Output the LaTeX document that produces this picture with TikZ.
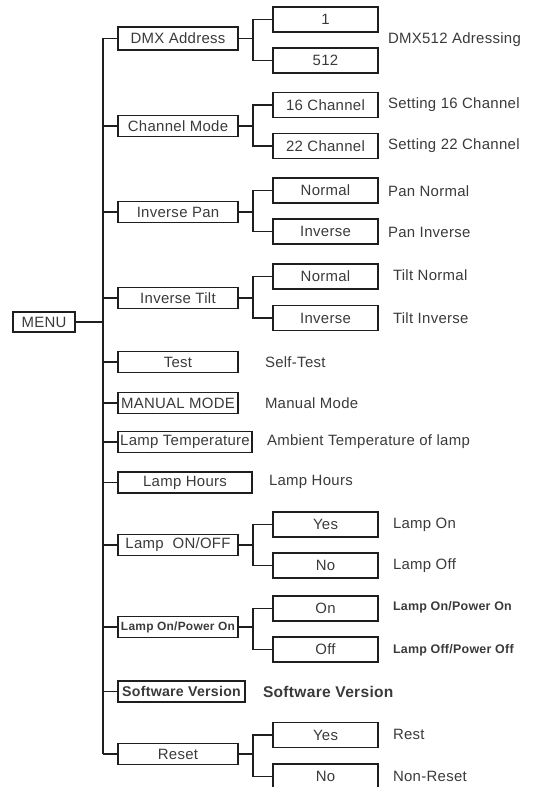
\documentclass[tikz,border=0pt]{standalone}
\usepackage{fontspec}
\setmainfont{Liberation Sans}[LetterSpace=2]
\definecolor{txt}{HTML}{3A3A3A}
\definecolor{ln}{HTML}{1E1E1E}
\begin{document}
\begin{tikzpicture}[x=1bp,y=-1bp,
  every node/.style={inner sep=0pt,outer sep=0pt,text=txt,font=\fontsize{15}{16}\selectfont},
  lbox/.style={draw=ln,line width=1.7bp,minimum width=120bp,minimum height=21bp},
  sbox/.style={draw=ln,line width=1.7bp,minimum width=105bp,minimum height=25bp},
  desc/.style={anchor=west},
  conn/.style={draw=ln,line width=1.7bp}]
\useasboundingbox (0,0) rectangle (537,787);
% root
\node[lbox,minimum width=62bp,minimum height=20bp] (menu) at (44,322) {MENU};
% level 1
\node[lbox,minimum height=23bp] (dmx) at (178,38.5) {DMX Address};
\node[lbox] (chm) at (178,126) {Channel Mode};
\node[lbox] (ipan) at (178,212) {Inverse Pan};
\node[lbox] (itilt) at (178,298) {Inverse Tilt};
\node[lbox] (test) at (178,362) {Test};
\node[lbox] (manual) at (178,403) {MANUAL MODE};
\node[lbox,minimum width=134bp] (ltemp) at (185,442) {Lamp Temperature};
\node[lbox,minimum width=134bp] (lhours) at (185,482.5) {Lamp Hours};
\node[lbox] (lonoff) at (178,545) {Lamp\ \ ON/OFF};
\node[lbox,font=\bfseries\fontsize{12}{13}\selectfont] (lpower) at (178,627) {Lamp On/Power On};
\node[lbox,minimum width=127bp,font=\bfseries\fontsize{14.2}{15}\selectfont] (soft) at (181.5,691.5) {Software Version};
\node[lbox] (reset) at (178,754) {Reset};
% level 2
\node[sbox] (one) at (325.5,19.5) {1};
\node[sbox] (five) at (325.5,60.5) {512};
\node[sbox] (c16) at (325.5,105) {16 Channel};
\node[sbox] (c22) at (325.5,146) {22 Channel};
\node[sbox] (pn) at (325.5,190.5) {Normal};
\node[sbox] (pi) at (325.5,231.5) {Inverse};
\node[sbox] (tn) at (325.5,276.5) {Normal};
\node[sbox] (ti) at (325.5,318) {Inverse};
\node[sbox] (yes) at (325.5,524.5) {Yes};
\node[sbox] (no) at (325.5,565.5) {No};
\node[sbox] (on) at (325.5,608.5) {On};
\node[sbox] (off) at (325.5,649.5) {Off};
\node[sbox] (ry) at (325.5,735) {Yes};
\node[sbox] (rn) at (325.5,776.5) {No};
% descriptions
\node[desc] (d1) at (388,40) {DMX512 Adressing};
\node[desc] (d2) at (388,105) {Setting 16 Channel};
\node[desc] (d3) at (388,146) {Setting 22 Channel};
\node[desc] (d4) at (388,191) {Pan Normal};
\node[desc] (d5) at (388,232) {Pan Inverse};
\node[desc] (d6) at (393,275.5) {Tilt Normal};
\node[desc] (d7) at (393,318.5) {Tilt Inverse};
\node[desc] (d8) at (265,362) {Self-Test};
\node[desc] (d9) at (265,403) {Manual Mode};
\node[desc] (d10) at (267,442) {Ambient Temperature of lamp};
\node[desc] (d11) at (269,482) {Lamp Hours};
\node[desc] (d12) at (393,525) {Lamp On};
\node[desc] (d13) at (393,566) {Lamp Off};
\node[desc,font=\bfseries\fontsize{12.5}{13}\selectfont] (d14) at (393,607.5) {Lamp On/Power On};
\node[desc,font=\bfseries\fontsize{12.5}{13}\selectfont] (d15) at (393,650) {Lamp Off/Power Off};
\node[desc,font=\bfseries\fontsize{15.6}{17}\selectfont] (d16) at (263,691.5) {Software Version};
\node[desc] (d17) at (393,734) {Rest};
\node[desc] (d18) at (393,776) {Non-Reset};
% spine
\coordinate (stop) at (103,38.5);
\coordinate (sbot) at (103,754);
\draw[conn] (stop) -- (sbot);
\draw[conn] (menu.east) -- (menu.east -| stop);
\foreach \n in {dmx,chm,ipan,itilt,test,manual,ltemp,lhours,lonoff,lpower,soft,reset}{
  \draw[conn] (\n.west) -- (\n.west -| stop);
}
% forks
\foreach \p/\a/\b in {dmx/one/five,chm/c16/c22,ipan/pn/pi,itilt/tn/ti,lonoff/yes/no,lpower/on/off,reset/ry/rn}{
  \draw[conn] (\p.east) -- ++(15,0);
  \draw[conn] (\a.west) -- ++(-20,0) |- (\b.west);
}
\end{tikzpicture}
\end{document}
